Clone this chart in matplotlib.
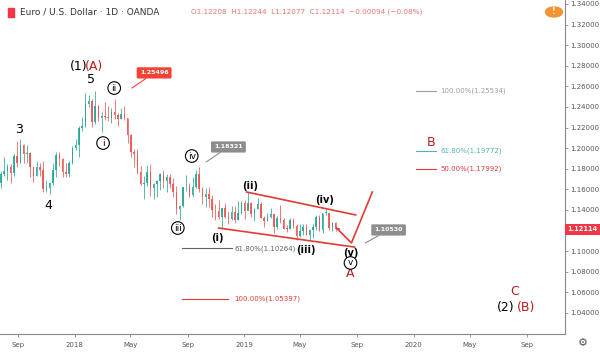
import datetime as dt
import matplotlib
matplotlib.use('Agg')
import matplotlib.pyplot as plt
import matplotlib.dates as mdates
import matplotlib.transforms as mtransforms
import pandas as pd

# weekly EUR/USD candles (week starting monday)
week_start = '2017-07-24'
opens = [1.1665, 1.1750, 1.1775, 1.1820, 1.1760, 1.1925, 1.1860, 1.2035, 1.1945, 1.1950,
         1.1815, 1.1730, 1.1820, 1.1785, 1.1605, 1.1610, 1.1665, 1.1790, 1.1930, 1.1895,
         1.1770, 1.1750, 1.1860,
         1.2005, 1.2030, 1.2200, 1.2220, 1.2425, 1.2460, 1.2250, 1.2410, 1.2295, 1.2310,
         1.2305, 1.2290, 1.2355, 1.2320, 1.2280, 1.2330, 1.2290, 1.2130, 1.1960, 1.1940,
         1.1770, 1.1650, 1.1660, 1.1770, 1.1610, 1.1655, 1.1685, 1.1745, 1.1685, 1.1720,
         1.1655, 1.1570, 1.1410, 1.1440, 1.1620, 1.1620, 1.1550, 1.1625, 1.1750, 1.1605,
         1.1525, 1.1560, 1.1510, 1.1400, 1.1390, 1.1335, 1.1415, 1.1335, 1.1315, 1.1380,
         1.1305, 1.1370,
         1.1465, 1.1395, 1.1470, 1.1365, 1.1405, 1.1455, 1.1325, 1.1295, 1.1335, 1.1365,
         1.1235, 1.1325, 1.1300, 1.1220, 1.1215, 1.1300, 1.1245, 1.1150, 1.1200, 1.1235,
         1.1160, 1.1205, 1.1235, 1.1330, 1.1210, 1.1370, 1.1370, 1.1225, 1.1270, 1.12208]
highs = [1.1777, 1.1910, 1.1845, 1.1850, 1.1940, 1.2070, 1.2092, 1.2040, 1.2035, 1.1960,
         1.1830, 1.1880, 1.1860, 1.1880, 1.1690, 1.1670, 1.1860, 1.1960, 1.1960, 1.1900,
         1.1860, 1.1880, 1.2020,
         1.2090, 1.2220, 1.2300, 1.2535, 1.2520, 1.2480, 1.2555, 1.2420, 1.2350, 1.2445,
         1.2410, 1.2390, 1.2475, 1.2345, 1.2395, 1.2414, 1.2290, 1.2140, 1.1995, 1.1995,
         1.1830, 1.1730, 1.1840, 1.1850, 1.1660, 1.1690, 1.1760, 1.1790, 1.1745, 1.1750,
         1.1710, 1.1635, 1.1445, 1.1625, 1.1735, 1.1660, 1.1720, 1.1790, 1.1815, 1.1625,
         1.1610, 1.1620, 1.1550, 1.1455, 1.1500, 1.1420, 1.1470, 1.1390, 1.1440, 1.1440,
         1.1485, 1.1485,
         1.1500, 1.1570, 1.1480, 1.1420, 1.1515, 1.1480, 1.1340, 1.1370, 1.1420, 1.1365,
         1.1345, 1.1450, 1.1325, 1.1255, 1.1325, 1.1325, 1.1265, 1.1265, 1.1265, 1.1265,
         1.1215, 1.1265, 1.1350, 1.1350, 1.1370, 1.1412, 1.1375, 1.1285, 1.1285, 1.12244]
lows = [1.1612, 1.1730, 1.1690, 1.1660, 1.1730, 1.1820, 1.1860, 1.1860, 1.1860, 1.1720,
        1.1670, 1.1730, 1.1730, 1.1575, 1.1575, 1.1554, 1.1640, 1.1720, 1.1830, 1.1720,
        1.1720, 1.1720, 1.1850,
        1.1980, 1.1915, 1.2170, 1.2210, 1.2400, 1.2205, 1.2235, 1.2260, 1.2155, 1.2275,
        1.2260, 1.2240, 1.2280, 1.2215, 1.2280, 1.2270, 1.2055, 1.1910, 1.1820, 1.1750,
        1.1645, 1.1510, 1.1630, 1.1540, 1.1508, 1.1530, 1.1590, 1.1610, 1.1575, 1.1610,
        1.1530, 1.1365, 1.1301, 1.1430, 1.1580, 1.1530, 1.1530, 1.1610, 1.1575, 1.1460,
        1.1430, 1.1430, 1.1335, 1.1300, 1.1315, 1.1216, 1.1325, 1.1265, 1.1300, 1.1270,
        1.1300, 1.1360,
        1.1310, 1.1410, 1.1330, 1.1290, 1.1410, 1.1325, 1.1235, 1.1295, 1.1325, 1.1176,
        1.1220, 1.1270, 1.1215, 1.1185, 1.1215, 1.1225, 1.1112, 1.1135, 1.1160, 1.1155,
        1.1107, 1.1130, 1.1205, 1.1200, 1.1180, 1.1350, 1.1205, 1.1195, 1.1200, 1.12077]
closes = [1.1750, 1.1775, 1.1820, 1.1760, 1.1925, 1.1860, 1.2035, 1.1945, 1.1950, 1.1815,
          1.1730, 1.1820, 1.1785, 1.1605, 1.1610, 1.1665, 1.1790, 1.1930, 1.1895, 1.1770,
          1.1750, 1.1860, 1.2005,
          1.2030, 1.2200, 1.2220, 1.2425, 1.2460, 1.2250, 1.2410, 1.2295, 1.2310, 1.2305,
          1.2290, 1.2355, 1.2320, 1.2280, 1.2330, 1.2290, 1.2130, 1.1960, 1.1940, 1.1770,
          1.1650, 1.1660, 1.1770, 1.1610, 1.1655, 1.1685, 1.1745, 1.1685, 1.1720, 1.1655,
          1.1570, 1.1410, 1.1440, 1.1620, 1.1620, 1.1550, 1.1625, 1.1750, 1.1605, 1.1525,
          1.1560, 1.1510, 1.1400, 1.1390, 1.1335, 1.1415, 1.1335, 1.1315, 1.1380, 1.1305,
          1.1370, 1.1465,
          1.1395, 1.1470, 1.1365, 1.1405, 1.1455, 1.1325, 1.1295, 1.1335, 1.1365, 1.1235,
          1.1325, 1.1300, 1.1220, 1.1215, 1.1300, 1.1245, 1.1150, 1.1200, 1.1235, 1.1160,
          1.1205, 1.1235, 1.1330, 1.1210, 1.1370, 1.1370, 1.1225, 1.1270, 1.1220, 1.12114]

yticks = [1.04, 1.06, 1.08, 1.10, 1.14, 1.16, 1.18, 1.20, 1.22, 1.24, 1.26, 1.28, 1.30, 1.32, 1.34]
xtick_dates = ['2017-09-01', '2018-01-01', '2018-05-01', '2018-09-01', '2019-01-01',
               '2019-05-01', '2019-09-01', '2020-01-01', '2020-05-01', '2020-09-01']
xtick_labels = ['Sep', '2018', 'May', 'Sep', '2019', 'May', 'Sep', '2020', 'May', 'Sep']

# elliott wave drawings: (date, price)
channel_top = [('2019-01-06', 1.1575), ('2019-08-29', 1.1352)]
channel_bot = [('2018-11-07', 1.1225), ('2019-08-27', 1.1040)]
projection = [('2019-07-19', 1.1225), ('2019-08-20', 1.1080), ('2019-10-04', 1.1575)]

fib_right = [('100.00%(1.25534)', 1.25534, '#9e9e9e'),
             ('61.80%(1.19772)', 1.19772, '#4db6ac'),
             ('50.00%(1.17992)', 1.17992, '#e53935')]
fib_left = [('61.80%(1.10264)', 1.10264, '#616161', '2018-12-05'),
            ('100.00%(1.05397)', 1.05397, '#e53935', '2018-11-28')]

last_price = 1.12114
GREEN = '#26a69a'
RED = '#ef5350'


def d(s):
    return mdates.date2num(dt.datetime.fromisoformat(s))


fig = plt.figure(figsize=(6.0, 3.54), dpi=100)
ax = fig.add_axes([0, 20 / 354, 565 / 600, 334 / 354])

# candles
dates = mdates.date2num(pd.date_range(week_start, periods=len(closes), freq='7D')) + 2
for x, o, h, l, c in zip(dates, opens, highs, lows, closes):
    col = GREEN if c >= o else RED
    ax.vlines(x, l, h, color=col, lw=0.6, alpha=0.9)
    ax.bar(x, max(abs(c - o), 0.0006), bottom=min(o, c), width=3.2, color=col, lw=0,
           alpha=0.9)

# channel + projection
for seg in (channel_top, channel_bot, projection):
    ax.plot([d(s) for s, _ in seg], [p for _, p in seg], color='#e53935', lw=1.2)

# fib levels
for txt, p, col in fib_right:
    ax.plot([d('2020-01-07'), d('2020-02-19')], [p, p], color=col, lw=0.8)
    ax.text(d('2020-02-27'), p, txt, color=col, fontsize=5, va='center')
for txt, p, col, end in fib_left:
    ax.plot([d('2018-08-21'), d(end)], [p, p], color=col, lw=0.8)
    ax.text(d('2018-12-11'), p, txt, color=col, fontsize=5, va='center')

# wave labels
big = dict(fontsize=9, ha='center', va='center')
ax.text(d('2017-09-03'), 1.2177, '3', color='black', **big)
ax.text(d('2017-11-05'), 1.1439, '4', color='black', **big)
ax.text(d('2018-02-06'), 1.2668, '5', color='black', **big)
ax.text(d('2018-01-09'), 1.2795, '(1)', color='black', **big)
ax.text(d('2018-02-11'), 1.2795, '(A)', color='#b71c1c', **big)
ax.text(d('2020-07-18'), 1.0458, '(2)', color='black', **big)
ax.text(d('2020-08-31'), 1.0458, '(B)', color='#b71c1c', **big)
red_lab = dict(fontsize=9, ha='center', va='center', color='#b71c1c')
ax.text(d('2019-08-18'), 1.0788, 'A', **red_lab)
ax.text(d('2020-02-08'), 1.2060, 'B', **red_lab)
ax.text(d('2020-08-06'), 1.0604, 'C', **red_lab)

circ = dict(fontsize=6.5, ha='center', va='center', color='black',
            bbox=dict(boxstyle='circle,pad=0.2', fc='white', ec='black', lw=0.8))
ax.text(d('2018-03-03'), 1.2050, 'i', **circ)
ax.text(d('2018-03-27'), 1.2584, 'ii', **circ)
ax.text(d('2018-08-11'), 1.1225, 'iii', **circ)
ax.text(d('2018-09-10'), 1.1924, 'iv', **circ)
ax.text(d('2019-08-18'), 1.0886, 'v', **circ)

sub = dict(fontsize=7, ha='center', va='center', color='black', fontweight='bold')
ax.text(d('2018-11-05'), 1.1128, '(i)', **sub)
ax.text(d('2019-01-13'), 1.1633, '(ii)', **sub)
ax.text(d('2019-05-13'), 1.1012, '(iii)', **sub)
ax.text(d('2019-06-23'), 1.1497, '(iv)', **sub)
ax.text(d('2019-08-18'), 1.0983, '(v)', **sub)


# price callouts
def callout(txt, box, tip, fc):
    ax.annotate(txt, xy=(d(tip[0]), tip[1]), xytext=(d(box[0]), box[1]),
                fontsize=4.5, color='white', fontweight='bold', ha='center', va='center',
                bbox=dict(boxstyle='round,pad=0.5,rounding_size=0.2', fc=fc, ec='none'),
                arrowprops=dict(arrowstyle='-', color=fc, lw=0.8, shrinkA=0, shrinkB=0))


callout('1.25496', ('2018-06-21', 1.2731), ('2018-05-04', 1.2584), '#f44336')
callout('1.18321', ('2018-11-28', 1.2012), ('2018-10-11', 1.1866), '#8d8d8d')
callout('1.10530', ('2019-11-08', 1.1206), ('2019-09-19', 1.1080), '#8d8d8d')

# axes look
ax.set_xlim(d('2017-07-24'), d('2020-11-22'))
ax.set_ylim(1.01961, 1.34388)
for s in ('top', 'left'):
    ax.spines[s].set_visible(False)
ax.spines['right'].set_color('#888888')
ax.spines['bottom'].set_color('#888888')
ax.yaxis.tick_right()
ax.set_yticks(yticks)
ax.set_yticklabels(['%.5f' % v for v in yticks])
ax.set_xticks([d(s) for s in xtick_dates])
ax.set_xticklabels(xtick_labels)
ax.tick_params(axis='both', labelsize=5, colors='#888888', labelcolor='#555555',
               length=2, width=0.6, pad=2)
ax.tick_params(axis='x', pad=4)

# last price tag
tr = mtransforms.blended_transform_factory(ax.transAxes, ax.transData)
ax.text(1.004, last_price, '%.5f' % last_price, transform=tr, fontsize=4.8, color='white',
        fontweight='bold', va='center', ha='left', clip_on=False,
        bbox=dict(boxstyle='square,pad=0.4', fc='#f23645', ec='none'))

# header
fig.patches.append(plt.Rectangle((8 / 600, 1 - 17 / 354), 6 / 600, 9 / 354,
                                 transform=fig.transFigure, color='#f23645'))
fig.text(20 / 600, 1 - 12 / 354, 'Euro / U.S. Dollar · 1D · OANDA', fontsize=6.5,
         color='#333333', va='center')
fig.text(191 / 600, 1 - 12 / 354,
         'O1.12208  H1.12244  L1.12077  C1.12114  \u22120.00094 (\u22120.08%)',
         fontsize=5.2, color='#e57373', va='center')
fig.patches.append(plt.Circle((554 / 600, 1 - 12 / 354), 5 / 354,
                              transform=fig.transFigure, color='#f59331'))
fig.text(554 / 600, 1 - 12 / 354, '!', fontsize=5.5, color='white', ha='center',
         va='center', fontweight='bold')
fig.text(583 / 600, 1 - 343 / 354, '\u2699', fontsize=8, color='#555555',
         ha='center', va='center')

fig.savefig('out.png', dpi=100, facecolor='white')
